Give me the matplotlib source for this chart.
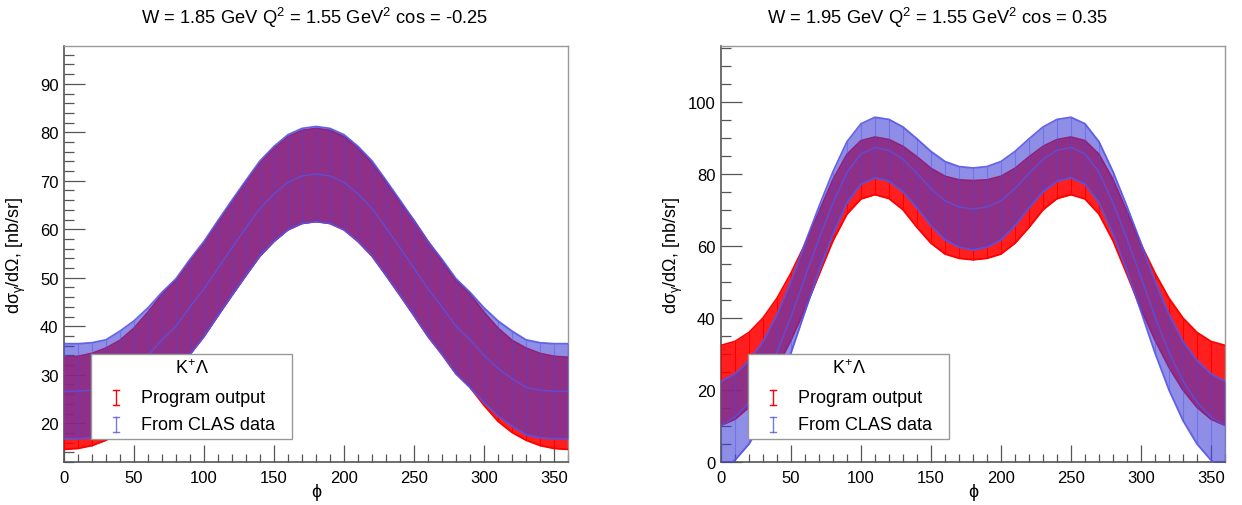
import numpy as np
import matplotlib
matplotlib.use("Agg")
import matplotlib.pyplot as plt
from matplotlib.patches import Rectangle
from matplotlib.lines import Line2D

plt.rcParams['font.family'] = ['Liberation Sans', 'DejaVu Sans']
plt.rcParams['mathtext.fontset'] = 'custom'
plt.rcParams['mathtext.rm'] = 'Liberation Sans'
plt.rcParams['mathtext.it'] = 'Liberation Sans'
plt.rcParams['mathtext.bf'] = 'Liberation Sans'

# ---------------- data ----------------
phi = [0, 10, 20, 30, 40, 50, 60, 70, 80, 90, 100, 110, 120, 130, 140, 150, 160, 170, 180,
       190, 200, 210, 220, 230, 240, 250, 260, 270, 280, 290, 300, 310, 320, 330, 340, 350, 360]

# left panel: W = 1.85, cos = -0.25
left_prog_val = [24.1, 24.3, 24.9, 26.0, 27.6, 30.0, 33.3, 37.0, 39.8, 43.8, 47.5, 51.8, 56.0, 60.1, 64.1, 67.1, 69.5, 70.8, 71.2,
                 70.8, 69.5, 67.1, 64.1, 60.1, 56.0, 52.0, 47.7, 43.8, 39.8, 37.0, 33.3, 30.0, 27.6, 26.0, 24.9, 24.3, 24.1]
left_prog_err = [9.5, 9.5, 9.5, 9.5, 9.5, 9.6, 9.6, 9.6, 9.6, 9.6, 9.6, 9.6, 9.6, 9.6, 9.6, 9.6, 9.6, 9.6, 9.6,
                 9.6, 9.6, 9.6, 9.6, 9.6, 9.6, 9.8, 9.8, 9.6, 9.6, 9.6, 9.6, 9.6, 9.5, 9.5, 9.5, 9.5, 9.5]
left_clas_val = [26.6, 26.6, 26.8, 27.4, 29.2, 31.3, 34.0, 37.2, 40.0, 44.0, 47.7, 52.0, 56.2, 60.3, 64.3, 67.3, 69.7, 71.0, 71.4,
                 71.0, 69.7, 67.3, 64.3, 60.3, 56.2, 52.0, 47.7, 44.0, 40.0, 37.2, 34.0, 31.3, 29.2, 27.4, 26.8, 26.6, 26.6]
left_clas_err = [9.8, 9.8, 9.8, 9.8, 9.8, 9.8, 9.8, 9.8, 9.8, 9.8, 9.8, 9.8, 9.8, 9.8, 9.8, 9.8, 9.8, 9.8, 9.8,
                 9.8, 9.8, 9.8, 9.8, 9.8, 9.8, 9.8, 9.8, 9.8, 9.8, 9.8, 9.8, 9.8, 9.8, 9.8, 9.8, 9.8, 9.8]

# right panel: W = 1.95, cos = 0.35
right_prog_val = [21.3, 22.7, 25.6, 30.0, 35.9, 43.2, 51.5, 60.8, 70.0, 77.2, 81.2, 82.3, 81.4, 78.9, 75.0, 71.2, 68.6, 67.5, 67.2,
                  67.5, 68.6, 71.2, 75.0, 78.9, 81.4, 82.3, 81.2, 77.2, 70.0, 60.8, 51.5, 43.2, 35.9, 30.0, 25.6, 22.7, 21.3]
right_prog_err = [11.1, 10.8, 10.4, 10.0, 9.6, 9.3, 9.0, 8.7, 8.5, 8.3, 8.1, 8.0, 8.2, 8.8, 9.8, 10.4, 10.8, 10.9, 11.0,
                  10.9, 10.8, 10.4, 9.8, 8.8, 8.2, 8.0, 8.1, 8.3, 8.5, 8.7, 9.0, 9.3, 9.6, 10.0, 10.4, 10.8, 11.1]
right_clas_val = [10.2, 12.5, 16.6, 22.5, 30.5, 40.3, 51.3, 62.0, 72.0, 80.5, 85.6, 87.4, 86.6, 84.1, 80.2, 76.0, 72.6, 70.9, 70.3,
                  70.9, 72.6, 76.0, 80.2, 84.1, 86.6, 87.4, 85.6, 80.5, 72.0, 62.0, 51.3, 40.3, 30.5, 22.5, 16.6, 12.5, 10.2]
right_clas_err = [12.2, 12.0, 11.6, 11.0, 10.5, 10.0, 9.5, 9.0, 8.7, 8.5, 8.4, 8.4, 8.6, 9.0, 9.6, 10.3, 10.9, 11.2, 11.4,
                  11.2, 10.9, 10.3, 9.6, 9.0, 8.6, 8.4, 8.4, 8.5, 8.7, 9.0, 9.5, 10.0, 10.5, 11.0, 11.6, 12.0, 12.2]

titles = ["W = 1.85 GeV Q$^{2}$ = 1.55 GeV$^{2}$ cos = -0.25",
          "W = 1.95 GeV Q$^{2}$ = 1.55 GeV$^{2}$ cos = 0.35"]
ylabel = "d$\\sigma_{\\gamma}$/d$\\Omega$, [nb/sr]"
xlabel = "\u03d5"
legend_title = "K$^{+}\\Lambda$"
legend_labels = ["Program output", "From CLAS data"]
xticks = [0, 50, 100, 150, 200, 250, 300, 350]
ylims = [(12.0, 97.8), (0.0, 115.6)]
yticks = [[20, 30, 40, 50, 60, 70, 80, 90], [0, 20, 40, 60, 80, 100]]
yminor = [2, 5]

# ---------------- figure ----------------
W, H = 1242, 506
fig = plt.figure(figsize=(W / 100, H / 100), dpi=100)

RED = (1.0, 0.0, 0.0)
BLUE = (0.24, 0.24, 0.84)
BLUE_LINE = (0.33, 0.33, 0.90)
TICK_C = '#555555'
FRAME_C = '#999999'

panels = [
    (64, left_prog_val, left_prog_err, left_clas_val, left_clas_err),
    (721, right_prog_val, right_prog_err, right_clas_val, right_clas_err),
]
title_x = [314.5, 938]

for i, (x0, pv, pe, cv, ce) in enumerate(panels):
    ax = fig.add_axes([x0 / W, (H - 463) / H, 504 / W, 416 / H])
    x = np.array(phi, dtype=float)
    pv = np.array(pv); pe = np.array(pe); cv = np.array(cv); ce = np.array(ce)

    # program output (red)
    ax.fill_between(x, pv - pe, pv + pe, color=RED, alpha=0.88, lw=0, zorder=2)
    ax.errorbar(x, pv, yerr=pe, fmt='none', ecolor=RED, elinewidth=0.8,
                capsize=0, zorder=3)
    ax.plot(x, pv - pe, color=RED, lw=1.3, zorder=3)
    ax.plot(x, pv + pe, color=RED, lw=1.3, zorder=3)

    # CLAS data (blue, translucent)
    ax.fill_between(x, cv - ce, cv + ce, color=BLUE, alpha=0.58, lw=0, zorder=4)
    ax.errorbar(x, cv, yerr=ce, fmt='none', ecolor=BLUE_LINE, elinewidth=0.8,
                capsize=0, alpha=0.45, zorder=5)
    ax.plot(x, cv, color=BLUE_LINE, lw=1.0, alpha=0.8, zorder=5)
    ax.plot(x, cv - ce, color=BLUE_LINE, lw=1.3, alpha=0.9, zorder=5)
    ax.plot(x, cv + ce, color=BLUE_LINE, lw=1.3, alpha=0.9, zorder=5)

    ax.set_xticks(xticks)
    ax.set_xticks(np.arange(0, 361, 10), minor=True)
    ax.set_yticks(yticks[i])
    ax.set_yticks(np.arange(0, ylims[i][1], yminor[i]), minor=True)
    ax.set_xlim(0, 360)
    ax.set_ylim(*ylims[i])
    ax.tick_params(axis='both', which='both', direction='in', top=False, right=False,
                   labelsize=12, color=TICK_C, pad=4)
    ax.tick_params(axis='y', which='major', length=15, width=0.9)
    ax.tick_params(axis='y', which='minor', length=7.5, width=0.9)
    ax.tick_params(axis='x', which='major', length=12, width=0.9, pad=6)
    ax.tick_params(axis='x', which='minor', length=6, width=0.9)
    for s in ax.spines.values():
        s.set_color(FRAME_C)
        s.set_linewidth(1.0)
    ax.spines['left'].set_color(TICK_C)
    ax.spines['bottom'].set_color(TICK_C)
    ax.spines['left'].set_linewidth(1.2)
    ax.spines['bottom'].set_linewidth(1.2)

    ax.set_xlabel(xlabel, fontsize=13)
    ax.xaxis.set_label_coords(0.5, -0.072)
    ax.xaxis.label.set_va('center')
    ax.set_ylabel(ylabel, fontsize=13)
    ax.yaxis.set_label_coords(-0.094, 0.5)
    ax.yaxis.label.set_va('center')

    # legend box (ROOT TLegend style)
    lx0, lx1, ly0, ly1 = 0.0536, 0.4524, 0.0553, 0.2596
    ax.add_patch(Rectangle((lx0, ly0), lx1 - lx0, ly1 - ly0, transform=ax.transAxes,
                           facecolor='white', edgecolor=FRAME_C, lw=1.0, zorder=10))
    ax.text((lx0 + lx1) / 2, 0.226, legend_title, transform=ax.transAxes, ha='center',
            va='center', fontsize=13, zorder=11)
    for k, (lab, col, ly) in enumerate([(legend_labels[0], RED, 0.156),
                                        (legend_labels[1], BLUE_LINE, 0.091)]):
        mx, dh, cw = 0.103, 0.018, 0.006
        a = 1.0 if k == 0 else 0.8
        ax.add_line(Line2D([mx, mx], [ly - dh, ly + dh], transform=ax.transAxes,
                           color=col, lw=1.0, alpha=a, zorder=11))
        for yy in (ly - dh, ly + dh):
            ax.add_line(Line2D([mx - cw, mx + cw], [yy, yy], transform=ax.transAxes,
                               color=col, lw=1.0, alpha=a, zorder=11))
        ax.text(0.153, ly, lab, transform=ax.transAxes, ha='left', va='center',
                fontsize=13, zorder=11)

    fig.text(title_x[i] / W, 1 - 18 / H, titles[i], ha='center', va='center',
             fontsize=13.2)

fig.savefig("out.png", dpi=100)
